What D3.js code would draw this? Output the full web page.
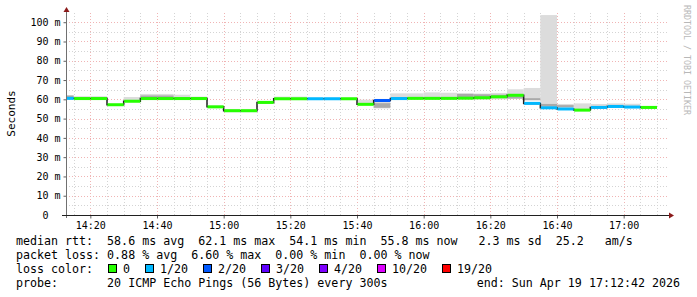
<!DOCTYPE html>
<html lang="en">
<head>
<meta charset="UTF-8">
<title>smokeping</title>
<script src="https://cdn.jsdelivr.net/npm/d3@7"></script>
<style>
  body { margin: 0; background: #fff; }
  svg text { font-family: "DejaVu Sans Mono", monospace; }
</style>
</head>
<body>
<div id="chart"></div>
<script>
// 5 minute bins starting 14:10
const binStartHour = 14, binStartMin = 10, binMinutes = 5
const median = [60.5, 60.4, 60.4, 57.2, 59.0, 60.4, 60.4, 60.4, 60.4, 56.1, 54.1, 54.1,
                58.4, 60.3, 60.3, 60.3, 60.3, 60.3, 57.4, 59.4, 60.4, 60.5, 60.5, 60.5,
                60.6, 60.8, 61.3, 62.1, 57.9, 55.6, 55.0, 54.4, 55.8, 56.3, 56.0, 55.8]
const loss   = [1, 0, 0, 0, 0, 0, 0, 0, 0, 0, 0, 0,
                0, 0, 0, 1, 1, 0, 0, 2, 1, 0, 0, 0,
                0, 0, 0, 0, 1, 1, 1, 0, 1, 1, 1, 0]
// smoke (spread of pings), outer and inner ranges
const smokeLo = [60.0, 60.0, 60.0, 56.8, 58.6, 60.0, 60.0, 60.0, 60.0, 55.6, 53.3, 53.3,
                 58.0, 60.0, 60.0, 60.0, 60.0, 60.0, 57.0, 55.3, 60.0, 60.0, 60.0, 60.0,
                 60.0, 60.0, 60.0, 60.2, 59.4, 56.2, 55.4, 54.4, 55.6, 56.0, 55.8, 55.8]
const smokeHi = [62.0, 61.6, 61.6, 57.6, 61.2, 62.8, 62.8, 62.4, 61.4, 56.8, 55.0, 55.0,
                 58.8, 61.4, 61.4, 60.8, 60.8, 60.8, 59.8, 60.0, 63.1, 63.1, 63.6, 63.4,
                 63.2, 63.0, 63.3, 65.2, 65.9, 103.7, 57.6, 57.9, 57.6, 57.9, 57.7, 55.8]
const innerLo = [61.0, null, null, null, null, 61.0, 61.0, null, null, null, null, null,
                 null, null, null, null, null, null, null, 55.6, null, null, null, null,
                 61.0, 61.0, 61.2, 60.4, 59.6, 56.2, 56.0, null, null, null, null, null]
const innerHi = [62.0, null, null, null, null, 62.0, 62.0, null, null, null, null, null,
                 null, null, null, null, null, null, null, 58.0, null, null, null, null,
                 62.8, 62.6, 62.4, 61.6, 60.6, 57.6, 57.0, null, null, null, null, null]

const yTicks = [0, 10, 20, 30, 40, 50, 60, 70, 80, 90, 100]
const yTickLabels = ["0\u00a0\u00a0", "10 m", "20 m", "30 m", "40 m", "50 m", "60 m", "70 m", "80 m", "90 m", "100 m"]

const lossSteps  = [0, 1, 2, 3, 4, 10, 19]
const lossLabels = ["0", "1/20", "2/20", "3/20", "4/20", "10/20", "19/20"]
const lossColors = ["#26ff00", "#00b8ff", "#0059ff", "#5e00ff", "#7e00ff", "#dd00ff", "#ff0000"]

const legendLines = [
  "median rtt:  58.6 ms avg  62.1 ms max  54.1 ms min  55.8 ms now   2.3 ms sd  25.2   am/s",
  "packet loss: 0.88 % avg  6.60 % max  0.00 % min  0.00 % now",
  "loss color:",
  "probe:       20 ICMP Echo Pings (56 Bytes) every 300s"
]
const endText = "end: Sun Apr 19 17:12:42 2026"

const w = 697, h = 297
const plotLeft = 66, plotRight = 666, plotTop = 13, plotBottom = 215

const t0 = new Date(2026, 3, 19, 14, 12, 42)
const t1 = new Date(2026, 3, 19, 17, 12, 42)

const svg = d3.select("#chart").append("svg")
  .attr("width", w).attr("height", h)
  .style("display", "block")

const xScale = d3.scaleTime().domain([t0, t1]).range([plotLeft, plotRight])
const yScale = d3.scaleLinear().domain([0, 104]).range([plotBottom, 14.5])

const bins = median.map((m, i) => {
  const s = new Date(2026, 3, 19, binStartHour, binStartMin + i * binMinutes)
  const e = new Date(2026, 3, 19, binStartHour, binStartMin + (i + 1) * binMinutes)
  return { s, e, m, loss: loss[i], lo: smokeLo[i], hi: smokeHi[i], ilo: innerLo[i], ihi: innerHi[i] }
})

svg.append("clipPath").attr("id", "plot")
  .append("rect").attr("x", plotLeft).attr("y", plotTop).attr("width", 602).attr("height", plotBottom - plotTop)

// grid
const grid = svg.append("g")
const minorTimes = d3.timeMinute.every(5).range(t0, t1)
minorTimes.forEach(t => {
  const major = t.getMinutes() % 20 === 0
  grid.append("line")
    .attr("x1", Math.round(xScale(t)) + 0.5).attr("x2", Math.round(xScale(t)) + 0.5)
    .attr("y1", plotTop).attr("y2", plotBottom)
    .attr("stroke", major ? "#f0b4b4" : "#d4d4d4")
    .attr("stroke-dasharray", "1,2")
})
d3.range(5, 105, 5).forEach(v => {
  const major = v % 10 === 0
  grid.append("line")
    .attr("x1", plotLeft).attr("x2", 668)
    .attr("y1", Math.round(yScale(v)) + 0.5).attr("y2", Math.round(yScale(v)) + 0.5)
    .attr("stroke", major ? "#f0b4b4" : "#d4d4d4")
    .attr("stroke-dasharray", "1,2")
})

const plot = svg.append("g").attr("clip-path", "url(#plot)")

// smoke
plot.selectAll("rect.smoke").data(bins).enter().append("rect")
  .attr("class", "smoke")
  .attr("x", d => xScale(d.s)).attr("width", d => xScale(d.e) - xScale(d.s))
  .attr("y", d => yScale(d.hi)).attr("height", d => Math.max(0, yScale(d.lo) - yScale(d.hi)))
  .attr("fill", "#dcdcdc")

plot.selectAll("rect.inner").data(bins.filter(d => d.ilo !== null)).enter().append("rect")
  .attr("class", "inner")
  .attr("x", d => xScale(d.s)).attr("width", d => xScale(d.e) - xScale(d.s))
  .attr("y", d => yScale(d.ihi)).attr("height", d => yScale(d.ilo) - yScale(d.ihi))
  .attr("fill", "#aaaaaa")

// median step line
const pts = bins.map(d => [xScale(d.s), yScale(d.m)])
pts.push([xScale(bins[bins.length - 1].e), yScale(bins[bins.length - 1].m)])
plot.append("path")
  .attr("d", d3.line().curve(d3.curveStepAfter)(pts))
  .attr("fill", "none").attr("stroke", "#202020").attr("stroke-width", 1.5)

const lossColor = n => {
  let c = lossColors[0]
  lossSteps.forEach((s, i) => { if (n >= s) c = lossColors[i] })
  return c
}
plot.selectAll("rect.med").data(bins).enter().append("rect")
  .attr("class", "med")
  .attr("x", d => xScale(d.s) + 0.5).attr("width", d => xScale(d.e) - xScale(d.s) - 0.5)
  .attr("y", d => yScale(d.m) - 1.5).attr("height", 3)
  .attr("fill", d => lossColor(d.loss))

// axes
const yAxis = d3.axisLeft(yScale).tickValues(yTicks)
  .tickFormat((d, i) => yTickLabels[i]).tickSize(3).tickPadding(3)
const gy = svg.append("g").attr("transform", `translate(${plotLeft + 0.5},0)`).call(yAxis)
gy.select(".domain").remove()
gy.selectAll("line").attr("stroke", "#606060")
gy.selectAll("text").attr("font-family", "DejaVu Sans Mono").attr("font-size", 10).attr("fill", "#000")

const xAxis = d3.axisBottom(xScale).ticks(d3.timeMinute.every(20))
  .tickFormat(d3.timeFormat("%H:%M")).tickSize(3).tickPadding(3)
const gx = svg.append("g").attr("transform", `translate(0,${plotBottom + 0.5})`).call(xAxis)
gx.select(".domain").remove()
gx.selectAll("line").attr("stroke", "#606060")
gx.selectAll("text").attr("font-family", "DejaVu Sans Mono").attr("font-size", 10).attr("fill", "#000")

svg.append("line").attr("x1", plotLeft + 0.5).attr("x2", plotLeft + 0.5).attr("y1", plotBottom + 3).attr("y2", 11)
  .attr("stroke", "#707070")
svg.append("line").attr("x1", 62).attr("x2", 670).attr("y1", plotBottom + 0.5).attr("y2", plotBottom + 0.5)
  .attr("stroke", "#202020")
svg.append("path").attr("d", `M${plotLeft - 2.5},12 L${plotLeft + 3.5},12 L${plotLeft + 0.5},7 Z`).attr("fill", "#8b1a1a")
svg.append("path").attr("d", `M669,${plotBottom - 2.5} L669,${plotBottom + 3.5} L674,${plotBottom + 0.5} Z`).attr("fill", "#8b1a1a")

// labels
svg.append("text")
  .attr("transform", "translate(14.5,113.5) rotate(-90)")
  .attr("text-anchor", "middle").attr("font-size", 11).text("Seconds")

svg.append("text")
  .attr("transform", "translate(684,5) rotate(90)")
  .attr("font-size", 8.3).attr("fill", "#b8b8b8").text("RRDTOOL / TOBI OETIKER")

// legend
const baselines = [245, 259, 273, 287]
legendLines.forEach((t, i) => {
  svg.append("text").attr("x", 16).attr("y", baselines[i])
    .attr("font-size", 11.65).style("white-space", "pre").text(t)
})
svg.append("text").attr("x", 680).attr("y", baselines[3]).attr("text-anchor", "end")
  .attr("font-size", 11.65).style("white-space", "pre").text(endText)

let lx = 108
lossLabels.forEach((lab, i) => {
  svg.append("rect").attr("x", lx + 0.5).attr("y", 264.5).attr("width", 8).attr("height", 8)
    .attr("fill", lossColors[i]).attr("stroke", "#000")
  svg.append("text").attr("x", lx + 15).attr("y", baselines[2])
    .attr("font-size", 11.65).text(lab)
  lx += 15 + lab.length * 7 + 15
})
</script>
</body>
</html>
